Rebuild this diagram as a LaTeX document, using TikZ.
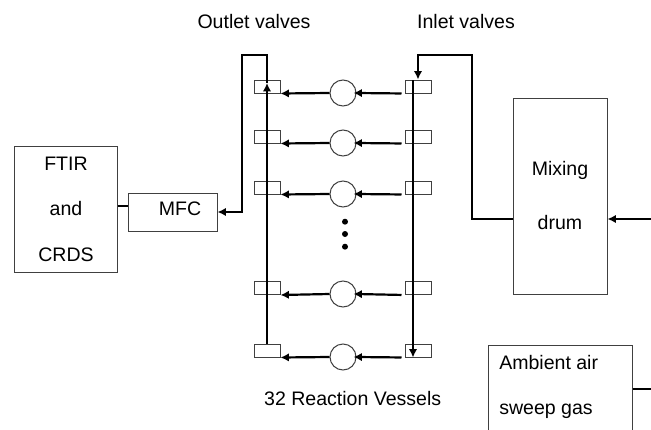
\documentclass[tikz,border=0pt]{standalone}
\usepackage{fontspec}
\setmainfont{Liberation Sans}
\usetikzlibrary{arrows.meta}
\tikzset{
  unit/.style={draw=black!75, line width=0.025cm, inner sep=0pt, align=center, font=\fontsize{13.9}{32.4}\selectfont},
  caption/.style={inner sep=0pt, font=\fontsize{13.9}{32.4}\selectfont},
  valve/.style={draw=black!75, line width=0.025cm, inner sep=0pt, minimum width=0.650000cm, minimum height=0.325000cm},
  vessel/.style={circle, draw=black!75, line width=0.025cm, inner sep=0pt, minimum size=0.650000cm},
  blob/.style={circle, fill=black, inner sep=0pt, minimum size=0.150000cm},
  pipe/.style={line width=0.055cm, -{Latex[length=0.210cm,width=0.210cm]}},
  tube/.style={line width=0.050cm},
  rowin/.style={pipe, shorten <=0.075cm, shorten >=-0.075cm}
}
\begin{document}
\begin{tikzpicture}
\clip (0,0) rectangle (16.275000,10.725000);

% Marking headings
\node [caption] (outlets) at (6.350000,10.175000) {Outlet valves};
\node [caption] (inlets) at (11.650000,10.175000) {Inlet valves};
\node [caption] (vessels) at (8.817500,0.750000) {32 Reaction Vessels};

% Marking analyser boxes
\node [unit, minimum width=2.550000cm, minimum height=3.150000cm] (ftir) at (1.650000,5.500000) {FTIR\\and\\CRDS};
\node [unit, minimum width=2.225000cm, minimum height=0.950000cm] (mfc) at (4.312500,5.425000) {};
\node [caption] (mfctext) at (4.500000,5.500000) {MFC};

% Marking mixing drum
\node [unit, minimum width=2.350000cm, minimum height=4.900000cm] (drum) at (14.000000,5.825000) {Mixing\\[6pt]drum};

% Marking sweep gas box, its lower part falls outside the clip
\node [unit, minimum width=3.600000cm, minimum height=2.500000cm] (ambient) at (14.000000,0.850000) {};
\node [caption, align=left, anchor=west] (ambienttext) at (12.475000,1.050000) {Ambient air\\sweep gas};

% Marking outlet valves
\node [valve] (out1) at (6.675000,8.562500) {};
\node [valve] (out2) at (6.675000,7.312500) {};
\node [valve] (out3) at (6.675000,6.037500) {};
\node [valve] (out4) at (6.675000,3.525000) {};
\node [valve] (out5) at (6.675000,1.962500) {};

% Marking inlet valves
\node [valve] (in1) at (10.450000,8.562500) {};
\node [valve] (in2) at (10.450000,7.312500) {};
\node [valve] (in3) at (10.450000,6.037500) {};
\node [valve] (in4) at (10.450000,3.525000) {};
\node [valve] (in5) at (10.450000,1.962500) {};

% Marking reaction vessels by circle
\node [vessel] (ves1) at (8.575000,8.400000) {};
\node [vessel] (ves2) at (8.575000,7.150000) {};
\node [vessel] (ves3) at (8.575000,5.875000) {};
\node [vessel] (ves4) at (8.575000,3.375000) {};
\node [vessel] (ves5) at (8.575000,1.800000) {};

% Marking dots between the rows
\node [blob] (dot1) at (8.625000,5.182500) {};
\node [blob] (dot2) at (8.625000,4.875000) {};
\node [blob] (dot3) at (8.625000,4.557500) {};

% Marking free ends and corners
\coordinate (outmark) at (6.675000,8.650000);
\coordinate (outtop) at (6.675000,9.350000);
\coordinate (outbend) at (6.042500,9.350000);
\coordinate (inrail) at (10.325000,8.725000);
\coordinate (intop) at (11.800000,9.350000);
\coordinate (drumfeed) at (16.275000,5.250000);
\coordinate (ambientfeed) at (16.275000,1.000000);

% Drawing row 1
\draw [rowin] (in1.south west) -- (ves1.east);
\draw [pipe] (ves1.west) -- (out1.south east);

% Drawing row 2
\draw [rowin] (in2.south west) -- (ves2.east);
\draw [pipe] (ves2.west) -- (out2.south east);

% Drawing row 3
\draw [rowin] (in3.south west) -- (ves3.east);
\draw [pipe] (ves3.west) -- (out3.south east);

% Drawing row 4
\draw [rowin] (in4.south west) -- (ves4.east);
\draw [pipe] (ves4.west) -- (out4.south east);

% Drawing row 5
\draw [rowin] (in5.south west) -- (ves5.east);
\draw [pipe] (ves5.west) -- (out5.south east);

% Drawing outlet line
\draw [pipe] (outmark |- out5.north) -- (outmark);
\draw [pipe] (outmark) -- (outtop) -- (outbend) -- (outbend |- mfc.east) -- (mfc.east);

% Drawing inlet line
\draw [pipe] (drum.west |- drumfeed) -- (intop |- drumfeed) -- (intop) -- (in1.north |- intop) -- (in1.north);
\draw [pipe] (inrail) -- (inrail |- in5.south);

% Drawing the remaining links
\draw [tube] ([yshift=0.075cm]ftir.east) -- ([yshift=0.150cm]mfc.west);
\draw [pipe] (drumfeed) -- (drum.east |- drumfeed);
\draw [tube] (ambient.east |- ambientfeed) -- (ambientfeed);
\end{tikzpicture}
\end{document}
